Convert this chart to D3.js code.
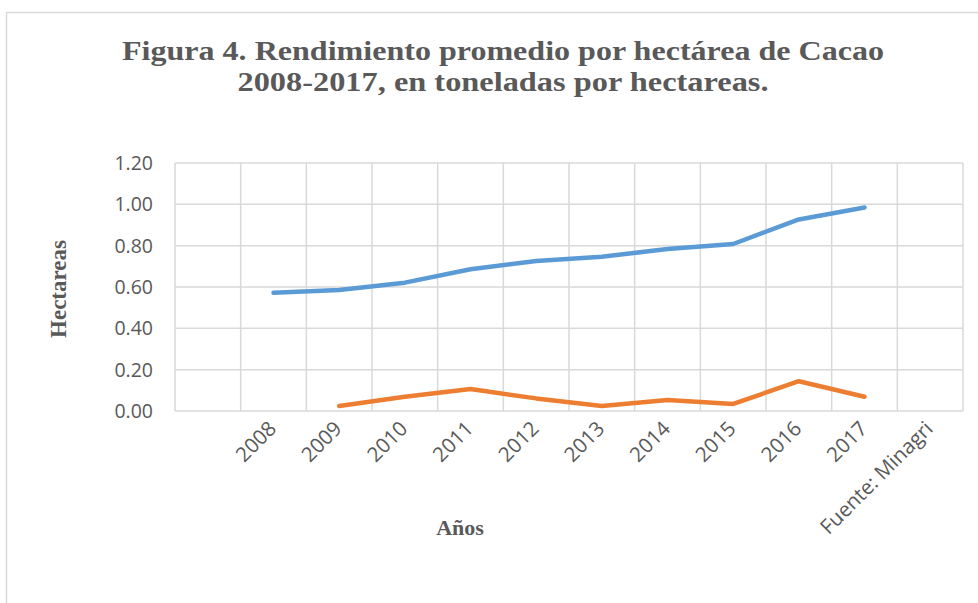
<!DOCTYPE html>
<html>
<head>
<meta charset="utf-8">
<script src="https://cdn.jsdelivr.net/npm/d3@7"></script>
<style>
  html, body { margin: 0; padding: 0; background: #fff; }
  svg { display: block; }
</style>
</head>
<body>
<div id="chart"></div>
<script>
// categories on the x axis (first slot is left blank, last one holds the source note)
const categories = ['', '2008', '2009', '2010', '2011', '2012', '2013', '2014', '2015', '2016', '2017', 'Fuente: Minagri'];
const years = ['2008', '2009', '2010', '2011', '2012', '2013', '2014', '2015', '2016', '2017'];
const rendimiento = [0.572, 0.585, 0.621, 0.686, 0.726, 0.746, 0.784, 0.808, 0.927, 0.985];
const variacion = [null, 0.024, 0.069, 0.106, 0.061, 0.024, 0.053, 0.034, 0.144, 0.069];
const yTicks = [0, 0.2, 0.4, 0.6, 0.8, 1.0, 1.2];
const titleLines = ['Figura  4. Rendimiento  promedio  por hectárea de Cacao', '2008-2017, en toneladas  por hectareas.'];

const width = 978, height = 603;
const margin = { t: 163, r: 15, b: 192, l: 175 };
const grid = '#d9d9d9', ink = '#595959';

const svg = d3.select('#chart').append('svg')
  .attr('width', width).attr('height', height)
  .attr('viewBox', [0, 0, width, height]);

// chart frame (only top and left edges fall inside the picture)
svg.append('path')
  .attr('d', `M6.5,${height}V12.5H${width}`)
  .attr('fill', 'none').attr('stroke', grid).attr('stroke-width', 1.5);

const x = d3.scaleBand().domain(categories).range([margin.l, width - margin.r]).padding(0);
const y = d3.scaleLinear().domain([0, 1.2]).range([height - margin.b, margin.t]);

// horizontal gridlines
svg.append('g').selectAll('line').data(yTicks).join('line')
  .attr('x1', margin.l).attr('x2', width - margin.r)
  .attr('y1', d => y(d)).attr('y2', d => y(d))
  .attr('stroke', grid).attr('stroke-width', 1.5);

// vertical gridlines at category boundaries
const bounds = categories.map(c => x(c)).concat([x.range()[1]]);
svg.append('g').selectAll('line').data(bounds).join('line')
  .attr('x1', d => d).attr('x2', d => d)
  .attr('y1', margin.t).attr('y2', height - margin.b)
  .attr('stroke', grid).attr('stroke-width', 1.5);

// y tick labels
svg.append('g').selectAll('text').data(yTicks).join('text')
  .attr('x', 153).attr('y', d => y(d)).attr('dy', '0.36em')
  .attr('text-anchor', 'end')
  .attr('font-family', '"Open Sans", sans-serif').attr('font-size', 19.5).attr('fill', ink)
  .text(d3.format('.2f'));

// x tick labels, rotated
svg.append('g').selectAll('text').data(categories.filter(c => c)).join('text')
  .attr('transform', c => `translate(${x(c) + x.bandwidth() / 2 + 4},${height - margin.b + 19}) rotate(-45)`)
  .attr('text-anchor', 'end')
  .attr('font-family', '"Open Sans", sans-serif').attr('font-size', 20.5).attr('fill', ink)
  .text(c => c);

// lines
const line = d3.line()
  .defined(d => d[1] != null)
  .x(d => x(d[0]) + x.bandwidth() / 2)
  .y(d => y(d[1]));

[[rendimiento, '#5b9bd5'], [variacion, '#ed7d31']].forEach(([vals, color]) => {
  svg.append('path')
    .attr('d', line(years.map((yr, i) => [yr, vals[i]])))
    .attr('fill', 'none').attr('stroke', color)
    .attr('stroke-width', 4.5).attr('stroke-linecap', 'round').attr('stroke-linejoin', 'round');
});

// title
const serif = '"Liberation Serif", "Times New Roman", serif';
svg.append('g').selectAll('text').data(titleLines).join('text')
  .attr('x', 503).attr('y', (d, i) => 60 + i * 31)
  .attr('text-anchor', 'middle')
  .attr('font-family', serif).attr('font-weight', 'bold').attr('font-size', 27).attr('fill', ink)
  .attr('textLength', (d, i) => i === 0 ? 762 : 531).attr('lengthAdjust', 'spacingAndGlyphs')
  .text(d => d);

// axis titles
svg.append('text')
  .attr('transform', 'translate(66,289) rotate(-90)')
  .attr('text-anchor', 'middle')
  .attr('font-family', serif).attr('font-weight', 'bold').attr('font-size', 23).attr('fill', ink)
  .text('Hectareas');

svg.append('text')
  .attr('x', 460).attr('y', 535)
  .attr('text-anchor', 'middle')
  .attr('font-family', serif).attr('font-weight', 'bold').attr('font-size', 22).attr('fill', ink)
  .text('Años');
</script>
</body>
</html>
